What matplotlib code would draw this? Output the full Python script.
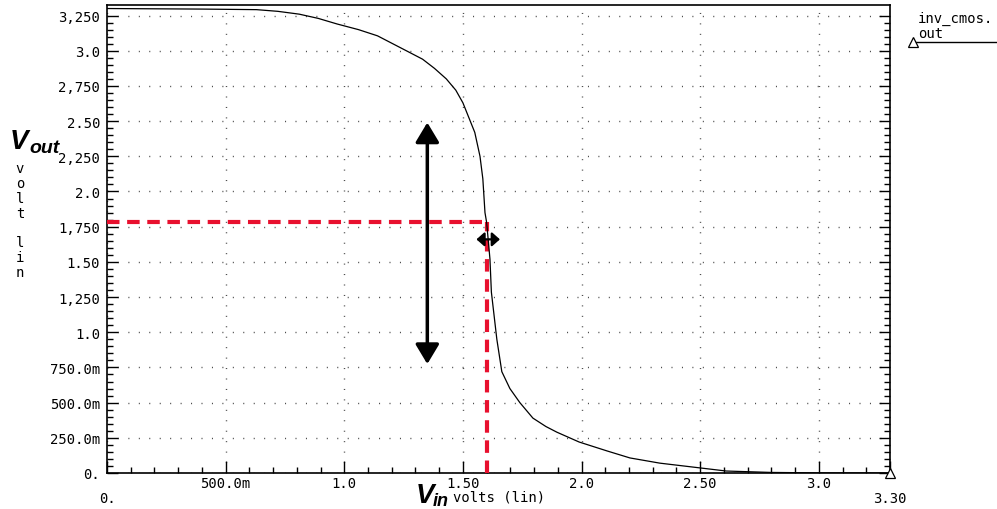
import matplotlib
matplotlib.use('Agg')
import matplotlib.pyplot as plt
from matplotlib.lines import Line2D
import numpy as np

# transfer curve of the CMOS inverter
vin = [0, 0.2, 0.4, 0.63, 0.72, 0.81, 0.89, 0.97, 1.06, 1.14, 1.25, 1.33, 1.38, 1.43,
       1.47, 1.50, 1.55, 1.572, 1.584, 1.593, 1.60, 1.614, 1.62, 1.643, 1.664, 1.698,
       1.74, 1.795, 1.85, 1.896, 1.99, 2.107, 2.204, 2.33, 2.50, 2.61, 2.8, 3.0, 3.3]
vout = [3.30, 3.298, 3.296, 3.292, 3.28, 3.26, 3.23, 3.19, 3.15, 3.106, 3.01, 2.94, 2.875, 2.80,
        2.72, 2.63, 2.42, 2.25, 2.09, 1.85, 1.78, 1.52, 1.285, 0.95, 0.72, 0.60,
        0.50, 0.39, 0.33, 0.29, 0.22, 0.157, 0.107, 0.07, 0.036, 0.014, 0.004, 0.001, 0.0]

vm = 1.60        # switching point
vout_m = 1.78
gain_arrow_x = 1.35
gain_arrow_y = (0.774, 2.49)
vin_arrow_x = (1.557, 1.656)
vin_arrow_y = 1.66

xticks = [0.5, 1.0, 1.5, 2.0, 2.5, 3.0]
xlabels = ['500.0m', '1.0', '1.50', '2.0', '2.50', '3.0']
yticks = [0, 0.25, 0.5, 0.75, 1.0, 1.25, 1.5, 1.75, 2.0, 2.25, 2.5, 2.75, 3.0, 3.25]
ylabels = ['0.', '250.0m', '500.0m', '750.0m', '1.0', '1,250', '1.50', '1,750',
           '2.0', '2,250', '2.50', '2,750', '3.0', '3,250']

plt.rcParams['lines.scale_dashes'] = False
mono = 'DejaVu Sans Mono'
fs = 10
W, H = 997, 510


def fx(px):
    return px / W


def fy(py):
    return 1 - py / H


fig = plt.figure(figsize=(9.97, 5.10), dpi=100)
ax = fig.add_axes([fx(107), fy(474), 783 / W, 468 / H])
ax.set_xlim(0, 3.3)
ax.set_ylim(0, 3.325)

ax.plot(vin, vout, color='black', lw=0.9, zorder=4)
ax.plot([3.3], [0], marker='^', ms=7, mfc='white', mec='black', mew=0.9,
        clip_on=False, zorder=6)

# red dashed guides
red = '#e8102e'
ax.plot([0, vm], [vout_m, vout_m], color=red, lw=3, dashes=(9, 5.5), zorder=3)
ax.plot([vm, vm], [0, vout_m], color=red, lw=3, dashes=(9, 5.5), zorder=3)

# arrows
ax.annotate('', xy=(gain_arrow_x, gain_arrow_y[1]), xytext=(gain_arrow_x, gain_arrow_y[0]),
            arrowprops=dict(arrowstyle='<|-|>,head_length=0.6,head_width=0.36',
                            lw=2.5, color='black', shrinkA=0, shrinkB=0,
                            mutation_scale=20), zorder=5)
ax.annotate('', xy=(vin_arrow_x[1], vin_arrow_y), xytext=(vin_arrow_x[0], vin_arrow_y),
            arrowprops=dict(arrowstyle='<|-|>,head_length=0.36,head_width=0.32',
                            lw=1.6, color='black', shrinkA=0, shrinkB=0,
                            mutation_scale=13), zorder=5)

# ticks and grid
ax.set_xticks([0] + xticks + [3.3])
ax.set_xticklabels(['\n0.'] + xlabels + ['\n3.30'], fontfamily=mono, fontsize=fs,
                   linespacing=1.1)
ax.set_xticks(np.arange(0, 3.31, 0.1), minor=True)
ax.set_yticks(yticks)
ax.set_yticklabels(ylabels, fontfamily=mono, fontsize=fs)
ax.set_yticks(np.arange(0, 3.3, 0.05), minor=True)
ax.tick_params(axis='both', which='both', direction='in', width=1, color='black')
ax.tick_params(axis='y', which='both', left=True, right=True)
ax.tick_params(axis='y', which='major', length=8, pad=5)
ax.tick_params(axis='y', which='minor', length=4.3)
ax.tick_params(axis='x', which='major', length=8.6, pad=2)
ax.tick_params(axis='x', which='minor', length=4.3)
ax.grid(which='major', color='#444444', lw=1, linestyle=(0, (0.72, 6.8)))
for s in ax.spines.values():
    s.set_linewidth(1.2)

# axis labels
fig.text(fx(10), fy(149), 'V', fontfamily='Liberation Sans', fontsize=20,
         fontweight='bold', fontstyle='italic', va='baseline')
fig.text(fx(29), fy(153), 'out', fontfamily='Liberation Sans', fontsize=14,
         fontweight='bold', fontstyle='italic', va='baseline')
fig.text(fx(20), fy(162), 'v\no\nl\nt\n\nl\ni\nn', fontfamily=mono, fontsize=fs,
         ha='center', va='top', linespacing=1.08)
fig.text(fx(416), fy(503), 'V', fontfamily='Liberation Sans', fontsize=20,
         fontweight='bold', fontstyle='italic', va='baseline')
fig.text(fx(433), fy(506), 'in', fontfamily='Liberation Sans', fontsize=13,
         fontweight='bold', fontstyle='italic', va='baseline')
fig.text(fx(453), fy(498), 'volts (lin)', fontfamily=mono, fontsize=fs, va='center')

# legend
fig.text(fx(918), fy(23), 'inv_cmos.', fontfamily=mono, fontsize=fs, va='baseline')
fig.text(fx(918), fy(38), 'out', fontfamily=mono, fontsize=fs, va='baseline')
fig.add_artist(Line2D([fx(913), fx(997)], [fy(43), fy(43)], color='black', lw=1))
fig.add_artist(Line2D([fx(913)], [fy(43)], marker='^', ms=7, mfc='white',
                      mec='black', mew=0.9))

fig.savefig('out.png', dpi=100)
